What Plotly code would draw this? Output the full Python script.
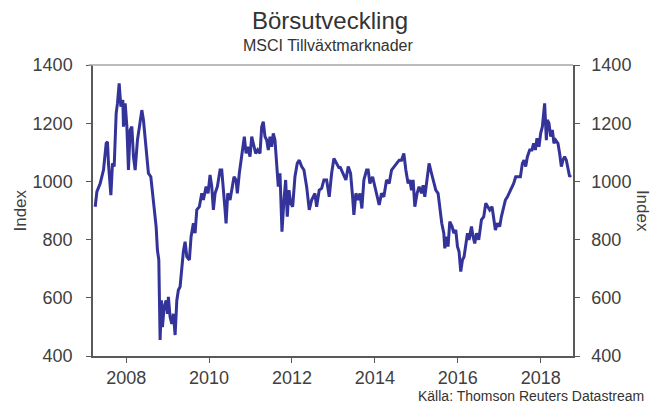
import plotly.graph_objects as go

# Decimal years and index values
years = [
    2007.253, 2007.294, 2007.373, 2007.453, 2007.518, 2007.549, 2007.573, 2007.631, 2007.670, 2007.711,
    2007.759, 2007.790, 2007.831, 2007.872, 2007.920, 2007.935, 2007.976, 2008.017, 2008.055, 2008.096,
    2008.137, 2008.176, 2008.217, 2008.272, 2008.320, 2008.378, 2008.417, 2008.458, 2008.499, 2008.537,
    2008.595, 2008.643, 2008.675, 2008.723, 2008.754, 2008.788, 2008.802, 2008.819, 2008.851, 2008.875,
    2008.916, 2008.964, 2008.995, 2009.019, 2009.060, 2009.101, 2009.140, 2009.181, 2009.222, 2009.260,
    2009.301, 2009.342, 2009.381, 2009.422, 2009.463, 2009.525, 2009.566, 2009.622, 2009.663, 2009.704,
    2009.766, 2009.824, 2009.863, 2009.928, 2009.976, 2010.024, 2010.065, 2010.104, 2010.145, 2010.200,
    2010.265, 2010.306, 2010.345, 2010.386, 2010.410, 2010.451, 2010.506, 2010.547, 2010.602, 2010.651,
    2010.682, 2010.730, 2010.771, 2010.827, 2010.851, 2010.892, 2010.933, 2010.988, 2011.029, 2011.067,
    2011.125, 2011.173, 2011.229, 2011.270, 2011.308, 2011.349, 2011.390, 2011.429, 2011.470, 2011.511,
    2011.549, 2011.590, 2011.631, 2011.670, 2011.711, 2011.759, 2011.807, 2011.848, 2011.887, 2011.928,
    2011.969, 2012.017, 2012.072, 2012.128, 2012.176, 2012.234, 2012.289, 2012.354, 2012.417, 2012.475,
    2012.554, 2012.595, 2012.658, 2012.716, 2012.771, 2012.836, 2012.899, 2012.957, 2013.012, 2013.077,
    2013.140, 2013.157, 2013.236, 2013.301, 2013.357, 2013.414, 2013.463, 2013.494, 2013.542, 2013.598,
    2013.639, 2013.687, 2013.735, 2013.800, 2013.839, 2013.880, 2013.945, 2014.000, 2014.055, 2014.104,
    2014.161, 2014.217, 2014.282, 2014.345, 2014.402, 2014.465, 2014.523, 2014.586, 2014.643, 2014.699,
    2014.747, 2014.802, 2014.843, 2014.884, 2014.923, 2014.964, 2015.019, 2015.067, 2015.125, 2015.164,
    2015.205, 2015.260, 2015.308, 2015.366, 2015.422, 2015.470, 2015.525, 2015.566, 2015.614, 2015.663,
    2015.687, 2015.728, 2015.766, 2015.807, 2015.863, 2015.904, 2015.952, 2015.993, 2016.031, 2016.072,
    2016.113, 2016.152, 2016.193, 2016.234, 2016.272, 2016.330, 2016.369, 2016.410, 2016.451, 2016.506,
    2016.571, 2016.627, 2016.675, 2016.723, 2016.771, 2016.827, 2016.867, 2016.908, 2016.957, 2017.012,
    2017.053, 2017.092, 2017.149, 2017.198, 2017.236, 2017.294, 2017.349, 2017.398, 2017.453, 2017.511,
    2017.559, 2017.598, 2017.639, 2017.680, 2017.735, 2017.790, 2017.831, 2017.872, 2017.911, 2017.959,
    2018.000, 2018.041, 2018.072, 2018.096, 2018.137, 2018.161, 2018.200, 2018.241, 2018.282, 2018.320,
    2018.361, 2018.417, 2018.458, 2018.499, 2018.537, 2018.578, 2018.619, 2018.658, 2018.699, 2018.723,
]

index_values = [
    913, 965, 993, 1039, 1131, 1136, 1062, 953, 1062, 1051,
    1234, 1268, 1337, 1257, 1280, 1188, 1268, 1188, 1039, 1177,
    1188, 1085, 1039, 1142, 1188, 1245, 1211, 1142, 1073, 1028,
    1016, 959, 902, 845, 764, 730, 603, 455, 591, 499,
    568, 591, 545, 603, 534, 510, 545, 472, 591, 627,
    638, 707, 760, 793, 741, 730, 810, 856, 822, 902,
    913, 959, 936, 982, 959, 1022, 982, 902, 959, 982,
    1039, 1039, 982, 902, 856, 959, 936, 970, 1016, 1005,
    959, 1028, 1073, 1119, 1154, 1096, 1119, 1085, 1154, 1131,
    1096, 1108, 1096, 1188, 1205, 1154, 1142, 1108, 1154, 1119,
    1165, 1142, 1039, 982, 1028, 827, 936, 1005, 879, 970,
    925, 913, 1016, 1062, 1073, 1051, 1039, 982, 902, 936,
    959, 913, 970, 976, 1005, 1005, 947, 1028, 1079, 1062,
    1045, 1051, 1028, 1005, 1051, 1028, 947, 885, 959, 936,
    959, 907, 1005, 1039, 1039, 993, 1016, 982, 959, 919,
    959, 947, 1005, 993, 1039, 1051, 1062, 1073, 1073, 1096,
    1039, 993, 1005, 970, 1005, 913, 959, 982, 959, 987,
    947, 1016, 1062, 1028, 993, 970, 959, 902, 856, 822,
    770, 810, 776, 862, 845, 822, 833, 776, 759, 690,
    730, 741, 787, 822, 799, 845, 810, 787, 822, 799,
    868, 879, 925, 913, 902, 913, 879, 833, 856, 845,
    879, 902, 936, 947, 959, 976, 993, 1016, 1016, 1016,
    1062, 1073, 1051, 1085, 1108, 1108, 1131, 1108, 1148, 1119,
    1165, 1188, 1234, 1268, 1142, 1211, 1200, 1154, 1177, 1131,
    1142, 1131, 1096, 1051, 1073, 1085, 1073, 1039, 1016, 1022,
]

x_tickvals = [2008, 2010, 2012, 2014, 2016, 2018]
x_ticktext = ["2008", "2010", "2012", "2014", "2016", "2018"]
y_tickvals = [400, 600, 800, 1000, 1200, 1400]

title_text = "Börsutveckling"
subtitle_text = "MSCI Tillväxtmarknader"
source_text = "Källa: Thomson Reuters Datastream"
axis_title = "Index"

FONT = "Liberation Sans, Arial, sans-serif"
TXT = "#404040"
AX = "#595959"

fig = go.Figure()
fig.add_trace(go.Scatter(
    x=years, y=index_values, mode="lines",
    line=dict(color="#333399", width=3),
    hoverinfo="skip", showlegend=False,
))
fig.add_trace(go.Scatter(
    x=years, y=index_values, mode="lines", yaxis="y2",
    line=dict(color="rgba(0,0,0,0)", width=0),
    hoverinfo="skip", showlegend=False,
))

axis_common = dict(
    showgrid=False, zeroline=False, showline=True, linecolor=AX, linewidth=1.5,
    ticks="outside", ticklen=5, tickwidth=1.3, tickcolor=AX,
    tickfont=dict(family=FONT, size=18, color=TXT),
)

fig.update_layout(
    width=652, height=403,
    margin=dict(l=93, r=79, t=65, b=47),
    paper_bgcolor="white", plot_bgcolor="white",
    font=dict(family=FONT, color=TXT),
    xaxis=dict(range=[2007.2, 2018.78], tickvals=x_tickvals, ticktext=x_ticktext,
               **axis_common),
    yaxis=dict(range=[400, 1400], tickvals=y_tickvals, side="left",
               ticklabelstandoff=10, **axis_common),
    yaxis2=dict(range=[400, 1400], tickvals=y_tickvals, side="right",
                overlaying="y", ticklabelstandoff=8, **axis_common),
    shapes=[dict(type="line", xref="paper", yref="paper", x0=-0.009, x1=1.0, y0=1, y1=1,
                 line=dict(color="#a6a6a6", width=1.5))],
    annotations=[
        dict(text=title_text, xref="paper", yref="paper", x=0.493, y=1.1546,
             xanchor="center", yanchor="middle", showarrow=False,
             font=dict(family=FONT, size=24, color="#333333")),
        dict(text=subtitle_text, xref="paper", yref="paper", x=0.490, y=1.0653,
             xanchor="center", yanchor="middle", showarrow=False,
             font=dict(family=FONT, size=16, color="#333333")),
        dict(text=source_text, xref="paper", yref="paper", x=1.153, y=-0.138,
             xanchor="right", yanchor="middle", showarrow=False,
             font=dict(family=FONT, size=14, color="#333333")),
        dict(text=axis_title, xref="paper", yref="paper", x=-0.152, y=0.50,
             xanchor="center", yanchor="middle", showarrow=False, textangle=-90,
             font=dict(family=FONT, size=17, color=TXT)),
        dict(text=axis_title, xref="paper", yref="paper", x=1.145, y=0.50,
             xanchor="center", yanchor="middle", showarrow=False, textangle=90,
             font=dict(family=FONT, size=17, color=TXT)),
    ],
)

fig.write_html("out.html", config={"displayModeBar": False},
               post_script="document.body.style.margin='0';")
